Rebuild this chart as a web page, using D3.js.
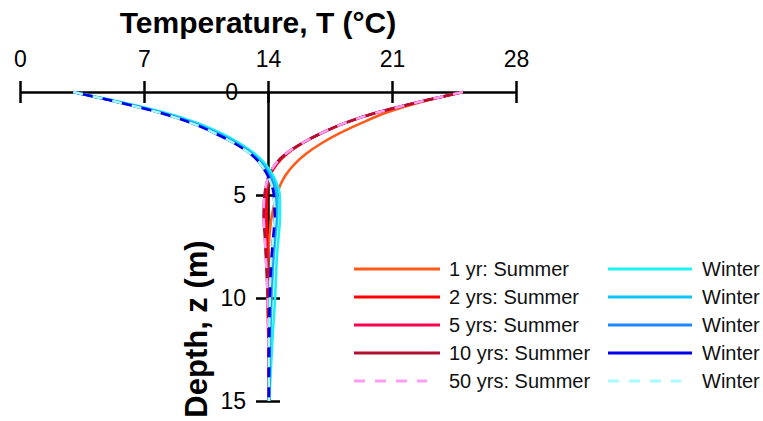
<!DOCTYPE html>
<html>
<head>
<meta charset="utf-8">
<script src="https://cdn.jsdelivr.net/npm/d3@7"></script>
<style>
  body { margin: 0; background: #fff; }
  svg { display: block; font-family: "Liberation Sans", Arial, sans-serif; }
</style>
</head>
<body>
<svg id="chart" width="763" height="421"></svg>
<script>
const depths = [0, 0.5, 1, 1.5, 2, 2.5, 3, 3.5, 4, 4.5, 5, 6, 7, 8, 9, 10, 12, 15];

// summer profiles, T (°C)
const summer1yr  = [25, 22.6, 20.7, 19.3, 18.05, 17.0, 16.15, 15.5, 15.02, 14.7, 14.5, 14.22, 14.08, 14.02, 14.0, 14.0, 14.02, 14.05];
const summer2yr  = [25, 22.45, 20.15, 18.38, 17.03, 15.93, 15.08, 14.5, 14.15, 13.99, 13.95, 13.94, 13.95, 13.97, 14.0, 14.02, 14.04, 14.05];
const summer5yr  = [25, 22.45, 20.15, 18.35, 17.0, 15.88, 15.0, 14.43, 14.09, 13.93, 13.85, 13.81, 13.85, 13.9, 13.95, 13.99, 14.02, 14.05];
const summer10yr = [25, 22.45, 20.15, 18.35, 17.0, 15.88, 15.0, 14.42, 14.07, 13.9, 13.8, 13.75, 13.82, 13.88, 13.94, 13.98, 14.02, 14.04];
const summer50yr = [25, 22.45, 20.15, 18.35, 17.0, 15.88, 15.0, 14.42, 14.07, 13.9, 13.8, 13.75, 13.82, 13.88, 13.94, 13.98, 14.02, 14.04];

// winter profiles, T (°C)
const winter1yr  = [3, 5.75, 8.15, 10.0, 11.35, 12.42, 13.25, 13.85, 14.25, 14.52, 14.66, 14.68, 14.6, 14.5, 14.45, 14.4, 14.25, 14.07];
const winter2yr  = [3, 5.65, 8.0, 9.82, 11.17, 12.27, 13.12, 13.72, 14.12, 14.4, 14.53, 14.52, 14.42, 14.32, 14.25, 14.2, 14.12, 14.06];
const winter5yr  = [3, 5.6, 7.9, 9.72, 11.07, 12.18, 13.04, 13.63, 14.01, 14.27, 14.39, 14.42, 14.35, 14.25, 14.18, 14.14, 14.09, 14.05];
const winter10yr = [3, 5.55, 7.85, 9.65, 11.0, 12.12, 13.0, 13.58, 13.95, 14.2, 14.33, 14.38, 14.3, 14.2, 14.14, 14.1, 14.07, 14.05];
const winter50yr = [3, 5.55, 7.85, 9.65, 11.0, 12.12, 13.0, 13.58, 13.95, 14.2, 14.33, 14.38, 14.3, 14.2, 14.14, 14.1, 14.07, 14.05];

const xTicks = [0, 7, 14, 21, 28];
const yTicks = [0, 5, 10, 15];

const summerLabels = ["1 yr: Summer", "2 yrs: Summer", "5 yrs: Summer", "10 yrs: Summer", "50 yrs: Summer"];
const winterLabels = ["Winter", "Winter", "Winter", "Winter", "Winter"];

const summerColors = ["#ff5a1a", "#ff0000", "#ff0050", "#b01030", "#ff9cf5"];
const winterColors = ["#1ef2f2", "#10c4f8", "#1e88ff", "#0000e6", "#a6fbff"];

const summerSeries = [summer1yr, summer2yr, summer5yr, summer10yr, summer50yr];
const winterSeries = [winter1yr, winter2yr, winter5yr, winter10yr, winter50yr];

const svg = d3.select("#chart");

const xScale = d3.scaleLinear().domain([0, 28]).range([20, 516]);
const yScale = d3.scaleLinear().domain([0, 15]).range([92, 401]);

// x axis (on top, ticks cross the line)
let xAxisGenerator = d3.axisTop(xScale)
  .tickValues(xTicks)
  .tickSizeInner(10)
  .tickSizeOuter(0)
  .tickPadding(15);

let gx = svg.append("g")
  .attr("id", "axis-x")
  .attr("transform", `translate(0, ${yScale(0)})`)
  .call(xAxisGenerator);
gx.select(".domain").attr("stroke-width", 2.5);
gx.selectAll(".tick line").attr("y1", 11).attr("y2", -11).attr("stroke-width", 2.5);
gx.selectAll(".tick text")
  .attr("font-size", 23)
  .attr("font-family", "Liberation Sans, Arial, sans-serif")
  .attr("fill", "#000");

// y axis (depth, down from the 14 °C line)
let yAxisGenerator = d3.axisLeft(yScale)
  .tickValues(yTicks)
  .tickSizeInner(12)
  .tickSizeOuter(0)
  .tickPadding(10);

let gy = svg.append("g")
  .attr("id", "axis-y")
  .attr("transform", `translate(${xScale(14)}, 0)`)
  .call(yAxisGenerator);
gy.select(".domain").attr("stroke-width", 2.5);
gy.selectAll(".tick line").attr("x1", 12).attr("x2", -12).attr("stroke-width", 2.5);
gy.selectAll(".tick text")
  .attr("font-size", 23)
  .attr("font-family", "Liberation Sans, Arial, sans-serif")
  .attr("fill", "#000");
gy.selectAll(".tick").filter(d => d === 0).select("line").remove();
gy.selectAll(".tick").filter(d => d === 0).select("text").attr("x", -30);

// profiles
const lineGenerator = d3.line()
  .x(d => xScale(d.t))
  .y(d => yScale(d.z))
  .curve(d3.curveMonotoneY);

const toPoints = values => values.map((t, i) => ({ z: depths[i], t: t }));

const profiles = svg.append("g").attr("id", "profiles");

function drawSet(series, colors) {
  series.forEach((values, i) => {
    profiles.append("path")
      .attr("d", lineGenerator(toPoints(values)))
      .attr("fill", "none")
      .attr("stroke", colors[i])
      .attr("stroke-width", 2.6)
      .attr("stroke-dasharray", i === series.length - 1 ? "10,10" : null);
  });
}
drawSet(summerSeries, summerColors);
drawSet(winterSeries, winterColors);

// titles
svg.append("text")
  .attr("x", 258)
  .attr("y", 33)
  .attr("text-anchor", "middle")
  .attr("font-size", 30)
  .attr("font-weight", "bold")
  .text("Temperature, T (°C)");

svg.append("text")
  .attr("transform", "translate(207, 329) rotate(-90)")
  .attr("text-anchor", "middle")
  .attr("font-size", 31)
  .attr("font-weight", "bold")
  .text("Depth, z (m)");

// legend
const rowY = d3.range(5).map(i => 269 + i * 28);
const legend = svg.append("g").attr("id", "legend");

function drawLegendColumn(labels, colors, x0, x1, tx) {
  labels.forEach((label, i) => {
    const dashed = i === labels.length - 1;
    legend.append("line")
      .attr("x1", x0)
      .attr("x2", dashed ? x0 + 73 : x1)
      .attr("y1", rowY[i])
      .attr("y2", rowY[i])
      .attr("stroke", colors[i])
      .attr("stroke-width", 3)
      .attr("stroke-dasharray", dashed ? "11,10" : null);
    legend.append("text")
      .attr("x", tx)
      .attr("y", rowY[i] + 7)
      .attr("font-size", 20)
      .attr("fill", "#111")
      .text(label);
  });
}
drawLegendColumn(summerLabels, summerColors, 354, 440, 449);
drawLegendColumn(winterLabels, winterColors, 608, 692, 702);
</script>
</body>
</html>
